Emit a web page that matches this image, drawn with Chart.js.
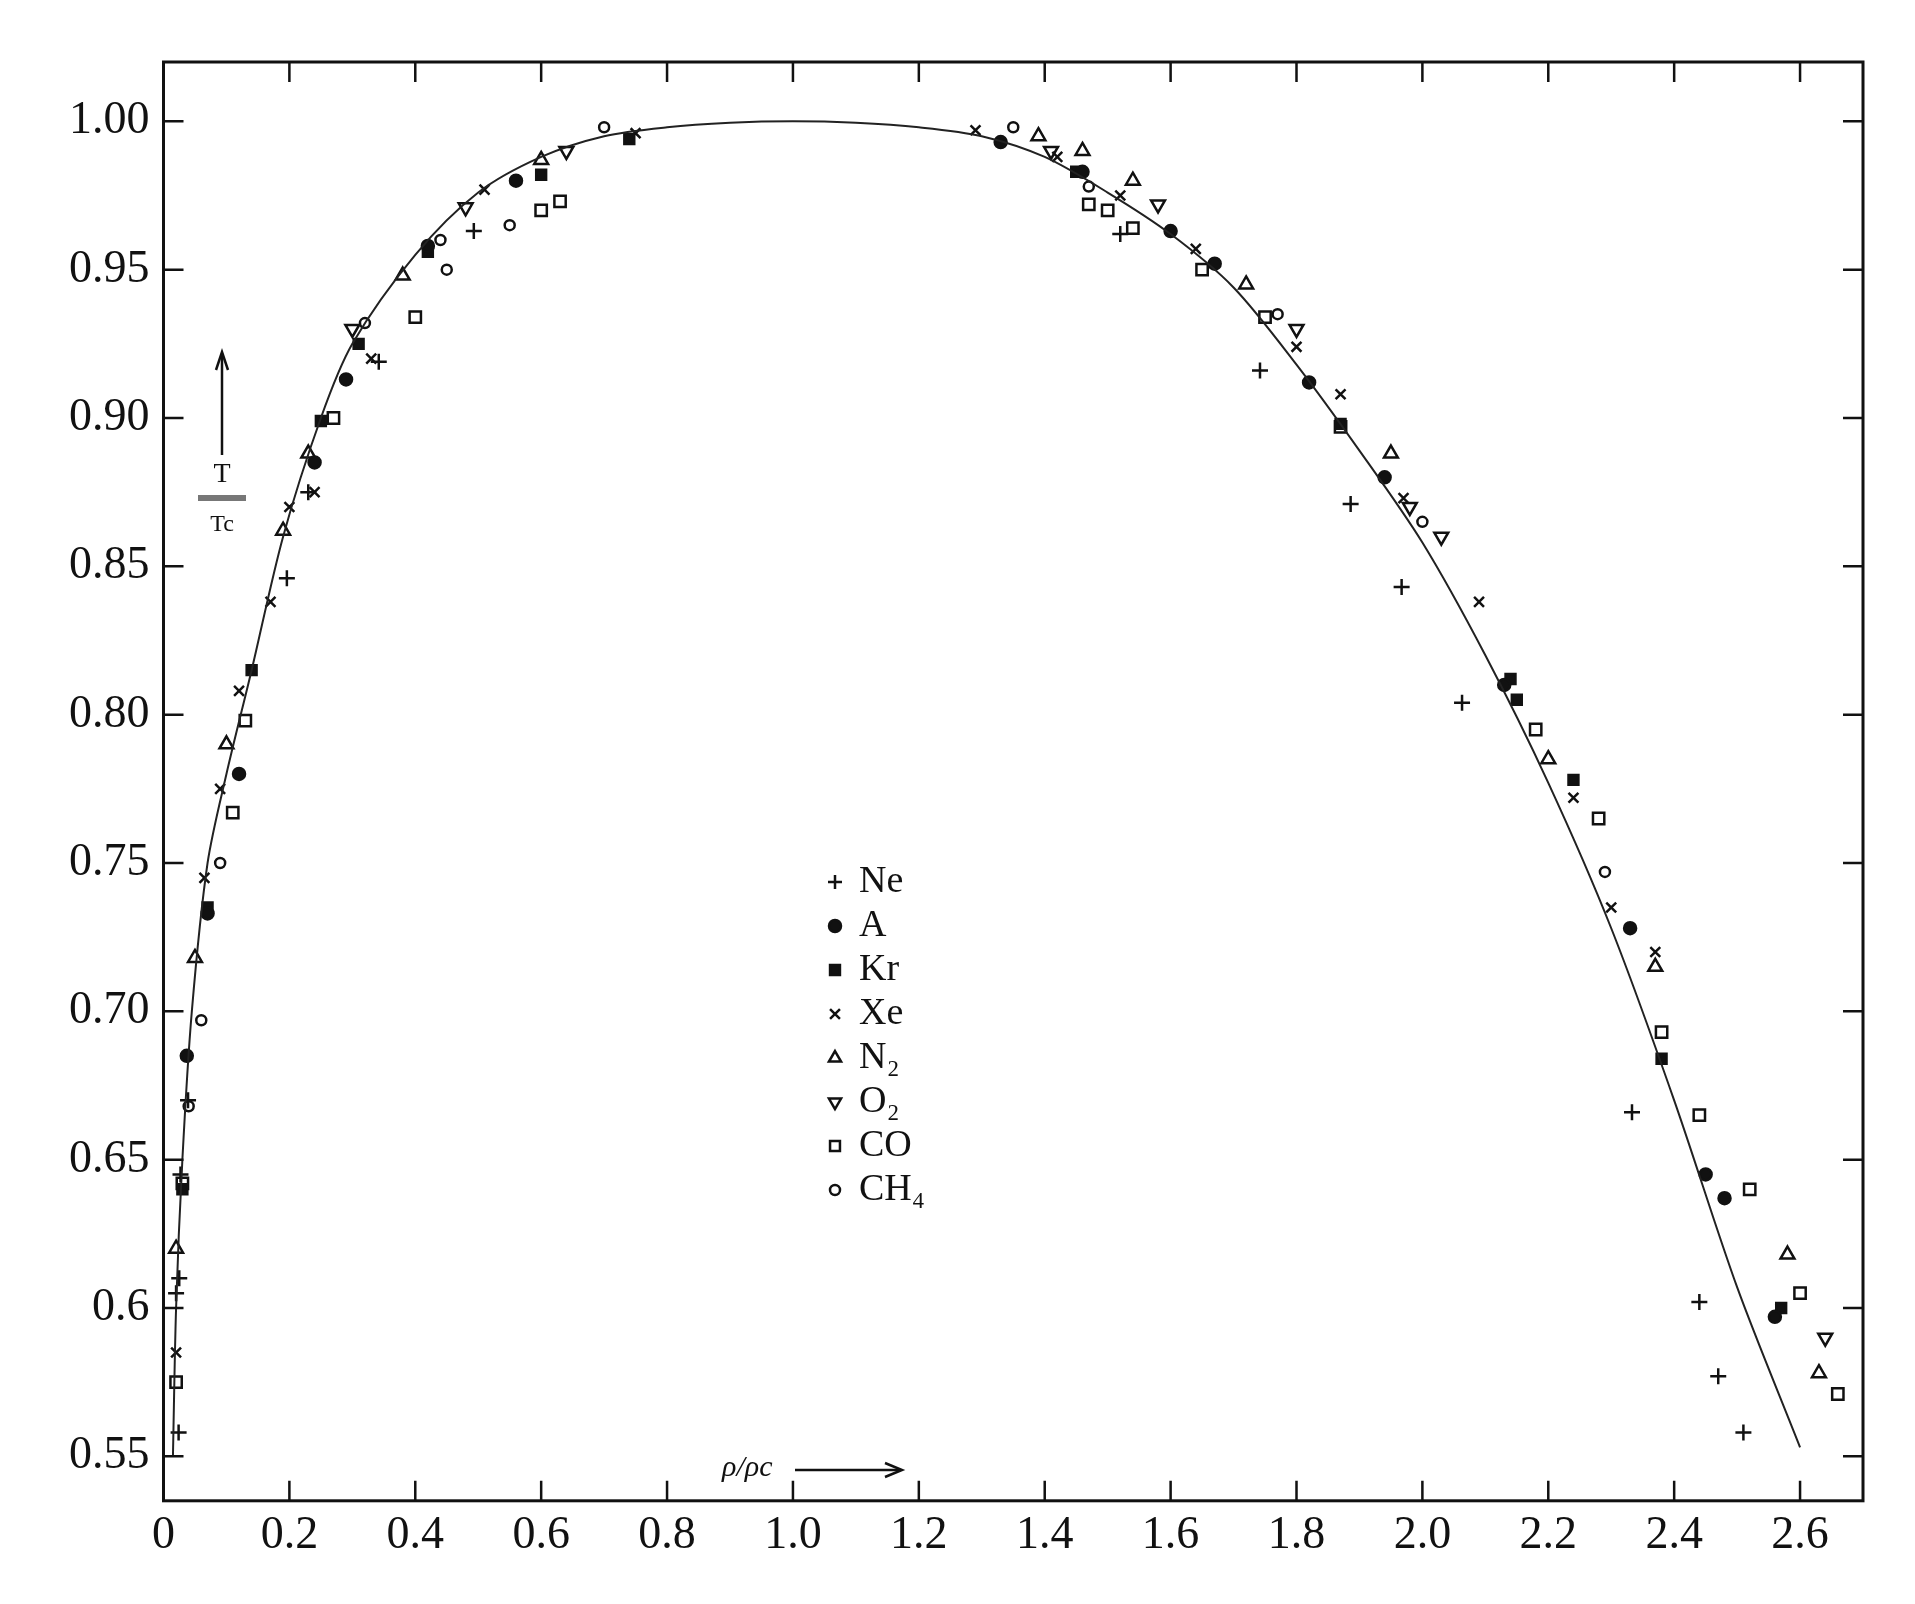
<!DOCTYPE html>
<html>
<head>
<meta charset="utf-8">
<script src="https://cdn.jsdelivr.net/npm/chart.js@4.4.0/dist/chart.umd.min.js"></script>
<style>
  body { margin: 0; background: #fff; }
  #wrap { width: 1915px; height: 1604px; }
</style>
</head>
<body>
<div id="wrap"><canvas id="chart"></canvas></div>
<script>
// ------------------------------
// Data
// ------------------------------
const xTicks = [0, 0.2, 0.4, 0.6, 0.8, 1.0, 1.2, 1.4, 1.6, 1.8, 2.0, 2.2, 2.4, 2.6];
const yTicks = [0.55, 0.6, 0.65, 0.70, 0.75, 0.80, 0.85, 0.90, 0.95, 1.00];
const yTickLabels = ['0.55', '0.6', '0.65', '0.70', '0.75', '0.80', '0.85', '0.90', '0.95', '1.00'];

const curve = [[0.015,0.55],[0.02,0.6],[0.03,0.65],[0.045,0.7],[0.07,0.75],[0.1,0.78],[0.14,0.815],
  [0.19,0.86],[0.25,0.9],[0.3,0.925],[0.4,0.955],[0.5,0.976],[0.6,0.988],[0.7,0.995],[0.8,0.998],
  [0.9,0.9995],[1.0,1.0],[1.1,0.9995],[1.2,0.998],[1.3,0.995],[1.4,0.988],[1.5,0.976],[1.6,0.962],
  [1.7,0.944],[1.8,0.918],[1.9,0.889],[2.0,0.858],[2.1,0.82],[2.2,0.777],[2.3,0.728],[2.4,0.67],
  [2.5,0.607],[2.6,0.553]];

const ne = [[0.024,0.558],[0.02,0.605],[0.025,0.61],[0.027,0.645],[0.039,0.67],[0.196,0.846],[0.23,0.875],
  [0.342,0.919],[0.493,0.963],[1.52,0.962],[1.742,0.916],[1.886,0.871],[1.967,0.843],[2.063,0.804],
  [2.333,0.666],[2.44,0.602],[2.47,0.577],[2.51,0.558]];
const ar = [[0.037,0.685],[0.07,0.733],[0.12,0.78],[0.24,0.885],[0.29,0.913],[0.42,0.958],[0.56,0.98],
  [1.33,0.993],[1.46,0.983],[1.6,0.963],[1.67,0.952],[1.82,0.912],[1.94,0.88],[2.13,0.81],[2.33,0.728],
  [2.45,0.645],[2.48,0.637],[2.56,0.597]];
const kr = [[0.03,0.64],[0.07,0.735],[0.14,0.815],[0.25,0.899],[0.31,0.925],[0.42,0.956],[0.6,0.982],
  [0.74,0.994],[1.45,0.983],[1.87,0.898],[2.14,0.812],[2.15,0.805],[2.24,0.778],[2.38,0.684],[2.57,0.6]];
const xe = [[0.02,0.585],[0.065,0.745],[0.09,0.775],[0.12,0.808],[0.17,0.838],[0.2,0.87],[0.24,0.875],
  [0.33,0.92],[0.51,0.977],[0.75,0.996],[1.29,0.997],[1.42,0.988],[1.52,0.975],[1.64,0.957],[1.8,0.924],
  [1.87,0.908],[1.97,0.873],[2.09,0.838],[2.24,0.772],[2.3,0.735],[2.37,0.72]];
const n2 = [[0.02,0.62],[0.05,0.718],[0.1,0.79],[0.19,0.862],[0.23,0.888],[0.38,0.948],[0.6,0.987],
  [1.39,0.995],[1.46,0.99],[1.54,0.98],[1.72,0.945],[1.95,0.888],[2.2,0.785],[2.37,0.715],[2.58,0.618],[2.63,0.578]];
const o2 = [[0.3,0.93],[0.48,0.971],[0.64,0.99],[1.41,0.99],[1.58,0.972],[1.8,0.93],[1.98,0.87],[2.03,0.86],[2.64,0.59]];
const co = [[0.02,0.575],[0.03,0.642],[0.11,0.767],[0.13,0.798],[0.27,0.9],[0.4,0.934],[0.6,0.97],[0.63,0.973],
  [1.47,0.972],[1.5,0.97],[1.54,0.964],[1.65,0.95],[1.75,0.934],[1.87,0.897],[2.18,0.795],[2.28,0.765],
  [2.38,0.693],[2.44,0.665],[2.52,0.64],[2.6,0.605],[2.66,0.571]];
const ch4 = [[0.04,0.668],[0.06,0.697],[0.09,0.75],[0.32,0.932],[0.44,0.96],[0.45,0.95],[0.55,0.965],
  [0.7,0.998],[1.35,0.998],[1.47,0.978],[1.77,0.935],[2.0,0.865],[2.29,0.747]];

const seriesNames = ['Ne', 'A', 'Kr', 'Xe', 'N₂', 'O₂', 'CO', 'CH₄'];
const seriesData = [ne, ar, kr, xe, n2, o2, co, ch4];
const seriesStyle = [
  { pointStyle: 'crossRot', rotation: 45, fill: false, r: 8 },
  { pointStyle: 'circle', fill: true, r: 6 },
  { pointStyle: 'rect', fill: true, r: 7 },
  { pointStyle: 'crossRot', rotation: 0, fill: false, r: 7 },
  { pointStyle: 'triangle', rotation: 0, fill: false, r: 8 },
  { pointStyle: 'triangle', rotation: 180, fill: false, r: 8 },
  { pointStyle: 'rect', fill: false, r: 8 },
  { pointStyle: 'circle', fill: false, r: 5 }
];

const FONT = '"Liberation Serif", "DejaVu Serif", serif';
const toXY = arr => arr.map(p => ({ x: p[0], y: p[1] }));

const datasets = [{
  label: 'curve', data: toXY(curve), showLine: true, borderColor: '#222', borderWidth: 2,
  pointRadius: 0, tension: 0.3
}];
seriesData.forEach((d, i) => {
  const s = seriesStyle[i];
  datasets.push({
    label: seriesNames[i], data: toXY(d), showLine: false,
    pointStyle: s.pointStyle, rotation: s.rotation || 0, pointRadius: s.r,
    borderColor: '#111', borderWidth: 2.5,
    backgroundColor: s.fill ? '#111' : 'rgba(255,255,255,0)'
  });
});

// ------------------------------
// Inward ticks, legend, axis labels
// ------------------------------
const decor = {
  id: 'decor',
  afterDraw(chart) {
    const c = chart.ctx, a = chart.chartArea;
    const xs = chart.scales.x, ys = chart.scales.y;
    c.save();
    c.strokeStyle = '#111'; c.lineWidth = 3;
    c.strokeRect(a.left, a.top, a.right - a.left, a.bottom - a.top);
    c.lineWidth = 2.5;
    xTicks.forEach(v => {
      const px = xs.getPixelForValue(v);
      c.beginPath(); c.moveTo(px, a.bottom); c.lineTo(px, a.bottom - 20);
      c.moveTo(px, a.top); c.lineTo(px, a.top + 20); c.stroke();
    });
    yTicks.forEach(v => {
      const py = ys.getPixelForValue(v);
      c.beginPath(); c.moveTo(a.left, py); c.lineTo(a.left + 20, py);
      c.moveTo(a.right, py); c.lineTo(a.right - 20, py); c.stroke();
    });

    // legend
    const lx = 835, ly0 = 882, step = 44;
    c.font = '38px ' + FONT; c.textBaseline = 'middle';
    seriesNames.forEach((n, i) => {
      const s = seriesStyle[i], y = ly0 + i * step;
      c.fillStyle = s.fill ? '#111' : '#fff';
      c.strokeStyle = '#111'; c.lineWidth = 2.5;
      Chart.helpers.drawPoint(c, { pointStyle: s.pointStyle, radius: Math.min(s.r, 7), rotation: s.rotation || 0, borderWidth: 2.5 }, lx, y);
      c.fillStyle = '#111';
      c.fillText(n, lx + 24, y);
    });

    // axis labels
    c.font = '28px ' + FONT;
    c.textAlign = 'center';
    c.fillStyle = '#111';
    const tx = 222;
    c.beginPath(); c.moveTo(tx, 455); c.lineTo(tx, 355); c.stroke();
    c.beginPath(); c.moveTo(tx - 6, 370); c.lineTo(tx, 352); c.lineTo(tx + 6, 370); c.stroke();
    c.fillText('T', tx, 475);
    c.fillStyle = '#777';
    c.fillRect(tx - 24, 495, 48, 6);
    c.fillStyle = '#111';
    c.font = '24px ' + FONT;
    c.fillText('Tc', tx, 525);
    c.font = 'italic 30px ' + FONT;
    c.textAlign = 'left';
    c.fillText('ρ/ρc', 722, 1468);
    c.beginPath(); c.moveTo(795, 1470); c.lineTo(900, 1470); c.stroke();
    c.beginPath(); c.moveTo(885, 1463); c.lineTo(902, 1470); c.lineTo(885, 1477); c.stroke();
    c.restore();
  }
};

new Chart(document.getElementById('chart'), {
  type: 'scatter',
  data: { datasets },
  plugins: [decor],
  options: {
    responsive: true, maintainAspectRatio: false, animation: false,
    layout: { padding: { left: 55, right: 52, top: 62, bottom: 32 } },
    plugins: { legend: { display: false }, tooltip: { enabled: false } },
    scales: {
      x: {
        type: 'linear', min: 0, max: 2.7,
        afterBuildTicks: s => { s.ticks = xTicks.map(v => ({ value: v })); },
        ticks: { font: { family: FONT, size: 46 }, color: '#111', padding: 8,
          callback: v => v === 0 ? '0' : v.toFixed(1) },
        grid: { display: false, drawTicks: false }, border: { display: false }
      },
      y: {
        type: 'linear', min: 0.535, max: 1.02,
        afterBuildTicks: s => { s.ticks = yTicks.map(v => ({ value: v })); },
        ticks: { font: { family: FONT, size: 46 }, color: '#111', padding: 14,
          callback: v => yTickLabels[yTicks.findIndex(t => Math.abs(t - v) < 1e-6)] },
        grid: { display: false, drawTicks: false }, border: { display: false }
      }
    }
  }
});
</script>
</body>
</html>
